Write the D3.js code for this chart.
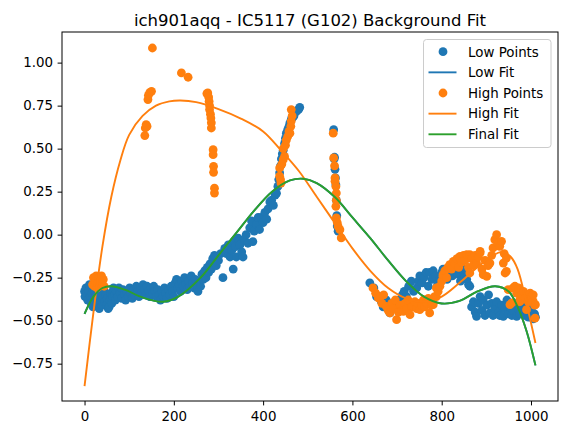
<!DOCTYPE html>
<html>
<head>
<meta charset="utf-8">
<script src="https://cdn.jsdelivr.net/npm/d3@7"></script>
<style>
  body { margin: 0; background: #fff; }
  text { font-family: "DejaVu Sans", sans-serif; }
</style>
</head>
<body>
<svg width="567" height="435"></svg>
<script>
// ---- data ----
const titleText = "ich901aqq - IC5117 (G102) Background Fit"
const xTicks = [0, 200, 400, 600, 800, 1000]
const yTicks = [-0.75, -0.5, -0.25, 0, 0.25, 0.5, 0.75, 1.0]

const lowPoints = [
  [0,-0.33],[1,-0.36],[3,-0.31],[5,-0.34],[7,-0.38],[9,-0.33],[11,-0.29],[13,-0.36],[15,-0.40],[17,-0.34],
  [19,-0.42],[21,-0.38],[23,-0.31],[25,-0.35],[27,-0.41],[29,-0.37],[31,-0.33],[33,-0.43],[35,-0.39],[37,-0.35],
  [39,-0.41],[41,-0.37],[43,-0.32],[45,-0.39],[47,-0.35],[49,-0.41],[51,-0.37],[53,-0.43],[55,-0.42],[57,-0.38],
  [59,-0.34],[61,-0.40],[63,-0.36],[65,-0.31],[67,-0.35],[69,-0.38],[71,-0.33],[74,-0.36],[77,-0.31],[80,-0.34],
  [83,-0.37],[86,-0.32],[89,-0.35],[92,-0.38],[95,-0.33],[98,-0.36],[101,-0.31],[104,-0.34],[107,-0.37],[110,-0.32],
  [113,-0.35],[116,-0.30],[119,-0.33],[122,-0.36],[125,-0.31],[128,-0.34],[131,-0.29],[134,-0.32],[137,-0.35],[140,-0.30],
  [143,-0.33],[146,-0.36],[149,-0.31],[152,-0.34],[155,-0.30],[158,-0.33],[161,-0.36],[164,-0.32],[167,-0.35],[170,-0.38],
  [173,-0.33],[176,-0.36],[179,-0.31],[182,-0.34],[185,-0.37],[188,-0.32],[191,-0.35],[194,-0.30],[197,-0.33],[200,-0.36],
  [203,-0.28],[206,-0.26],[209,-0.31],[212,-0.29],[215,-0.33],[218,-0.27],[221,-0.30],[224,-0.25],[227,-0.29],[230,-0.32],
  [233,-0.27],[236,-0.30],[239,-0.24],[242,-0.28],[245,-0.31],[248,-0.26],[251,-0.29],[254,-0.33],[257,-0.27],[260,-0.30],
  [263,-0.23],[266,-0.26],[269,-0.21],[272,-0.25],[275,-0.19],[278,-0.22],[281,-0.17],[284,-0.20],[287,-0.14],[291,-0.12],
  [295,-0.18],[300,-0.15],[305,-0.11],[310,-0.25],[314,-0.08],[318,-0.11],[322,-0.06],[326,-0.13],[330,-0.09],[333,-0.20],
  [335,-0.04],[338,-0.07],[340,-0.13],[344,-0.02],[348,-0.06],[352,-0.10],[355,-0.13],[358,-0.03],[362,0.00],[366,-0.05],
  [370,0.04],[374,0.08],[377,-0.04],[380,0.02],[385,0.06],[389,0.10],[392,0.03],[396,0.10],[400,0.07],[404,0.13],
  [408,0.09],[411,0.15],[415,0.19],[419,0.20],[423,0.17],[427,0.23],[430,0.24],[433,0.28],[435,0.32],[437,0.36],
  [439,0.40],[441,0.44],[443,0.47],[445,0.49],[448,0.53],[450,0.56],[452,0.59],[455,0.61],[458,0.63],[460,0.65],
  [463,0.67],[466,0.68],[469,0.69],[472,0.71],[476,0.72],[480,0.73],[482,0.74],
  [558,0.61],[559,0.44],[560,0.45],[561,0.38],[562,0.33],[563,0.29],[564,0.20],[565,0.11],[566,0.05],[568,0.02],
  [639,-0.28],[648,-0.31],[654,-0.36],[661,-0.36],[665,-0.39],[669,-0.42],[676,-0.38],[684,-0.455],[690,-0.42],[697,-0.40],
  [705,-0.38],[712,-0.35],[716,-0.33],[721,-0.36],[726,-0.30],[732,-0.27],[737,-0.33],[744,-0.31],[748,-0.27],[751,-0.24],
  [756,-0.28],[760,-0.25],[765,-0.22],[770,-0.30],[773,-0.22],[778,-0.26],[781,-0.21],[786,-0.24],[791,-0.29],[796,-0.26],
  [800,-0.22],[803,-0.20],[808,-0.24],[812,-0.26],[818,-0.22],[824,-0.24],[830,-0.21],[836,-0.23],[842,-0.27],[848,-0.20],
  [852,-0.24],[856,-0.26],[860,-0.29],[863,-0.30],[867,-0.42],[871,-0.39],[875,-0.45],[878,-0.475],[882,-0.40],[886,-0.36],
  [890,-0.44],[893,-0.38],[897,-0.47],[901,-0.41],[905,-0.35],[908,-0.455],[912,-0.40],[915,-0.47],[919,-0.43],[923,-0.39],
  [927,-0.45],[930,-0.47],[934,-0.41],[938,-0.475],[942,-0.43],[946,-0.38],[949,-0.46],[953,-0.42],[957,-0.47],[960,-0.44],
  [964,-0.40],[968,-0.475],[972,-0.43],[975,-0.46],[979,-0.41],[983,-0.435],[987,-0.47],[990,-0.44],[994,-0.48],[998,-0.455],
  [1001,-0.43],[1005,-0.49],[1008,-0.46],[1010,-0.48]
]

const highPoints = [
  [18,-0.29],[20,-0.25],[22,-0.30],[24,-0.27],[26,-0.24],[28,-0.31],[30,-0.28],[32,-0.25],[34,-0.30],[36,-0.27],
  [38,-0.24],[40,-0.29],[42,-0.26],[44,-0.30],
  [135,0.576],[136,0.62],[138,0.64],[140,0.63],[142,0.785],[143,0.81],[146,0.825],[150,0.833],[152,1.085],
  [217,0.94],[232,0.915],
  [274,0.82],[276,0.824],[278,0.80],[279,0.775],[280,0.75],[280,0.727],[282,0.70],[283,0.678],[284,0.65],[284,0.62],
  [288,0.494],[288,0.465],[289,0.397],[289,0.362],[291,0.27],[291,0.242],
  [437,0.34],[437,0.388],[439,0.32],[440,0.30],[442,0.41],[445,0.436],[445,0.50],[448,0.455],[450,0.52],[452,0.55],
  [455,0.57],[458,0.60],[460,0.59],[462,0.63],[463,0.66],[463,0.727],[465,0.69],
  [557,0.59],[558,0.446],[560,0.40],[561,0.33],[561,0.31],[563,0.28],[564,0.242],[563,0.165],[564,0.20],[564,0.097],
  [566,0.07],[568,0.048],[572,0.029],[575,-0.019],
  [646,-0.31],[652,-0.34],[658,-0.368],[661,-0.37],[666,-0.40],[670,-0.35],[676,-0.417],[680,-0.44],[684,-0.455],[688,-0.40],
  [692,-0.43],[696,-0.38],[699,-0.494],[703,-0.45],[707,-0.41],[711,-0.44],[714,-0.446],[718,-0.40],[722,-0.43],[725,-0.38],
  [729,-0.465],[733,-0.42],[736,-0.417],[740,-0.39],[744,-0.43],[747,-0.40],[751,-0.436],[755,-0.41],[759,-0.38],[762,-0.42],
  [766,-0.397],[770,-0.37],[773,-0.455],[777,-0.41],[781,-0.407],[784,-0.36],[788,-0.36],[788,-0.31],[792,-0.33],[796,-0.30],
  [800,-0.27],[803,-0.242],[803,-0.233],[807,-0.21],[811,-0.25],[814,-0.19],[818,-0.184],[818,-0.174],[822,-0.20],[826,-0.155],
  [830,-0.17],[834,-0.14],[838,-0.19],[841,-0.126],[841,-0.136],[845,-0.16],[849,-0.12],[852,-0.15],[856,-0.116],[860,-0.19],
  [863,-0.223],[863,-0.116],[867,-0.14],[871,-0.18],[875,-0.12],[878,-0.165],[882,-0.13],[886,-0.106],[886,-0.097],[890,-0.20],
  [893,-0.233],[897,-0.15],[901,-0.242],[904,-0.18],[908,-0.165],[912,-0.12],[915,-0.077],[919,-0.029],[923,0.0],[926,-0.05],
  [930,-0.068],[934,-0.039],[938,-0.165],[940,-0.11],[942,-0.223],[945,-0.213],[945,-0.136],[949,-0.32],[953,-0.407],[957,-0.397],
  [960,-0.31],[964,-0.30],[968,-0.34],[972,-0.31],[975,-0.378],[975,-0.39],[979,-0.35],[983,-0.33],[987,-0.37],[990,-0.436],
  [994,-0.39],[998,-0.34],[1001,-0.36],[1005,-0.388],[1005,-0.35],[1008,-0.41],[1009,-0.485],[1010,-0.407]
]

const highFitX = [0, 20, 40, 60, 80, 100, 130, 160, 190, 215, 250, 300, 350, 400, 440, 480, 520, 560, 600, 640, 680, 720, 760, 800, 840, 880, 910, 935, 955, 970, 990, 1010]
const highFitY = [-0.88, -0.45, -0.07, 0.22, 0.43, 0.58, 0.69, 0.75, 0.775, 0.78, 0.77, 0.73, 0.675, 0.60, 0.49, 0.37, 0.22, 0.07, -0.08, -0.21, -0.31, -0.37, -0.39, -0.36, -0.28, -0.19, -0.13, -0.10, -0.13, -0.20, -0.40, -0.63]

const finalFitX = [0, 20, 40, 60, 90, 130, 176, 210, 260, 300, 340, 380, 420, 460, 490, 520, 560, 600, 640, 680, 720, 760, 800, 840, 880, 920, 950, 970, 990, 1010]
const finalFitY = [-0.46, -0.36, -0.31, -0.30, -0.32, -0.365, -0.39, -0.36, -0.25, -0.12, 0.01, 0.14, 0.25, 0.315, 0.325, 0.30, 0.22, 0.10, -0.02, -0.15, -0.27, -0.36, -0.40, -0.385, -0.33, -0.30, -0.33, -0.42, -0.56, -0.76]
// low fit sits right under the final fit
const lowFitY = [-0.46, -0.36, -0.31, -0.30, -0.32, -0.365, -0.39, -0.36, -0.25, -0.12, 0.01, 0.14, 0.25, 0.315, 0.325, 0.30, 0.22, 0.10, -0.02, -0.15, -0.27, -0.36, -0.40, -0.385, -0.33, -0.30, -0.33, -0.42, -0.56, -0.76]

const legendNames = ["Low Points", "Low Fit", "High Points", "High Fit", "Final Fit"]
const legendKinds = ["dot", "line", "dot", "line", "line"]
const legendColors = ["#1f77b4", "#1f77b4", "#ff7f0e", "#ff7f0e", "#2ca02c"]

// ---- layout ----
const W = 567, H = 435
const mLeft = 62, mRight = 558, mTop = 32, mBottom = 401

const svg = d3.select("svg")

const x = d3.scaleLinear().domain([-50.5, 1060.5]).range([mLeft, mRight])
const y = d3.scaleLinear().domain([-0.967, 1.178]).range([mBottom, mTop])

svg.append("defs").append("clipPath").attr("id", "clip")
  .append("rect").attr("x", mLeft).attr("y", mTop).attr("width", mRight - mLeft).attr("height", mBottom - mTop)
const plot = svg.append("g").attr("clip-path", "url(#clip)")

function scatter(pts, color) {
  plot.append("g").selectAll("circle").data(pts).join("circle")
    .attr("cx", d => x(d[0]))
    .attr("cy", d => y(d[1]))
    .attr("r", 4.4)
    .attr("fill", color)
}

function fitLine(xs, ys, color) {
  const pts = xs.map((v, i) => [v, ys[i]])
  plot.append("path")
    .attr("d", d3.line().x(d => x(d[0])).y(d => y(d[1])).curve(d3.curveCatmullRom.alpha(0.5))(pts))
    .attr("fill", "none")
    .attr("stroke", color)
    .attr("stroke-width", 1.9)
}

scatter(lowPoints, "#1f77b4")
fitLine(finalFitX, lowFitY, "#1f77b4")
scatter(highPoints, "#ff7f0e")
fitLine(highFitX, highFitY, "#ff7f0e")
fitLine(finalFitX, finalFitY, "#2ca02c")

// axes
const fs = 13.4
const xAxis = svg.append("g").attr("transform", "translate(0," + mBottom + ")")
  .call(d3.axisBottom(x).tickValues(xTicks).tickFormat(d3.format("d")).tickSize(4.4).tickPadding(6))
const yAxis = svg.append("g").attr("transform", "translate(" + mLeft + ",0)")
  .call(d3.axisLeft(y).tickValues(yTicks).tickFormat(d3.format(".2f")).tickSize(4.4).tickPadding(4.6))
for (const ax of [xAxis, yAxis]) {
  ax.select(".domain").remove()
  ax.selectAll("text").attr("font-family", "DejaVu Sans").attr("font-size", fs).attr("fill", "#000")
  ax.selectAll("line").attr("stroke", "#000").attr("stroke-width", 1)
}

svg.append("rect")
  .attr("x", mLeft).attr("y", mTop).attr("width", mRight - mLeft).attr("height", mBottom - mTop)
  .attr("fill", "none").attr("stroke", "#000").attr("stroke-width", 1)

// title
svg.append("text")
  .attr("x", (mLeft + mRight) / 2).attr("y", 26)
  .attr("text-anchor", "middle")
  .attr("font-size", 16.5)
  .text(titleText)

// legend
const lg = svg.append("g")
lg.append("rect")
  .attr("x", 423.5).attr("y", 39.5).attr("width", 127.5).attr("height", 108)
  .attr("rx", 3).attr("fill", "#fff").attr("fill-opacity", 0.8)
  .attr("stroke", "#cccccc").attr("stroke-width", 1)
legendNames.forEach((name, i) => {
  const cy = 51.7 + i * 20.65
  if (legendKinds[i] == "dot") {
    lg.append("circle").attr("cx", 443).attr("cy", cy).attr("r", 4.4).attr("fill", legendColors[i])
  } else {
    lg.append("line").attr("x1", 428.5).attr("x2", 456.5).attr("y1", cy).attr("y2", cy)
      .attr("stroke", legendColors[i]).attr("stroke-width", 1.9)
  }
  lg.append("text").attr("x", 468).attr("y", cy).attr("dy", "0.36em")
    .attr("font-size", fs).text(name)
})
</script>
</body>
</html>
